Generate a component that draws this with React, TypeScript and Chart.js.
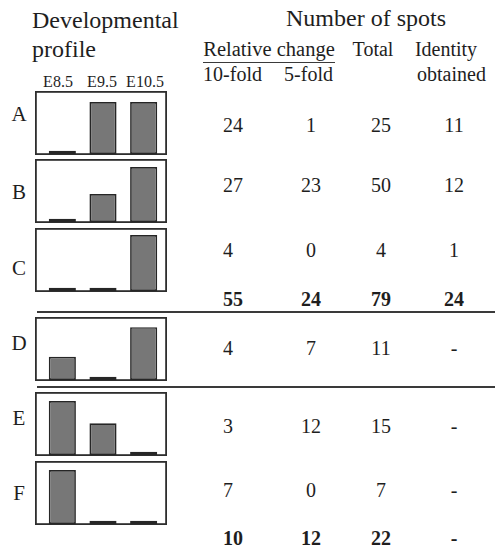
import React, { useEffect, useRef } from "react";
import { Chart, registerables } from "chart.js";
Chart.register(...registerables);

// ---- data ----
const stages = ["E8.5", "E9.5", "E10.5"];
const profileLabels = ["A", "B", "C", "D", "E", "F"];
const profileA = [0.06, 0.965, 0.965];
const profileB = [0.06, 0.52, 1.02];
const profileC = [0.06, 0.06, 1.04];
const profileD = [0.43, 0.06, 0.98];
const profileE = [1.0, 0.59, 0.06];
const profileF = [1.0, 0.06, 0.06];
const profiles = [profileA, profileB, profileC, profileD, profileE, profileF];

const tenFold = ["24", "27", "4", "4", "3", "7"];
const fiveFold = ["1", "23", "0", "7", "12", "0"];
const totals = ["25", "50", "4", "11", "15", "7"];
const identity = ["11", "12", "1", "-", "-", "-"];
const subtotal1 = ["55", "24", "79", "24"];
const subtotal2 = ["10", "12", "22", "-"];

// ---- layout ----
const FONT = '"Liberation Serif", "Times New Roman", serif';
const BOX_LEFT = 35;
const BOX_W = 132;
const BOX_H = 64;
const BOX_TOPS = [91, 159, 228, 317, 392, 461];
const LETTER_Y = [114, 192, 268, 343, 418, 493];
const ROW_Y = [125, 185, 250, 348, 426, 490];
const SUB_Y = [299, 538];
const COL1_LEFT = 223;
const COL_X = [311, 381, 454];
const STAGE_X = [58, 102, 145];

const boxPlugin = {
  id: "boxFrame",
  beforeDatasetsDraw(chart: any) {
    const { ctx, width, height } = chart;
    ctx.save();
    ctx.strokeStyle = "#2e2e2e";
    ctx.lineWidth = 1.8;
    ctx.strokeRect(0.9, 0.9, width - 1.8, height - 1.8);
    ctx.restore();
  },
};

function MiniBar({ values, top }: { values: number[]; top: number }) {
  const ref = useRef<HTMLCanvasElement>(null);
  useEffect(() => {
    if (!ref.current) return;
    const chart = new Chart(ref.current, {
      type: "bar",
      data: {
        labels: stages,
        datasets: [
          {
            data: values,
            backgroundColor: "#777777",
            borderColor: "#262626",
            borderWidth: 1.7,
            borderSkipped: false,
            barPercentage: 0.667,
            categoryPercentage: 1,
          },
        ],
      },
      options: {
        animation: false,
        responsive: false,
        events: [],
        layout: { padding: { left: 7, right: 3, top: 1, bottom: 1 } },
        plugins: { legend: { display: false }, tooltip: { enabled: false } },
        scales: {
          x: { display: false, offset: true },
          y: { display: false, min: 0, max: 1.15 },
        },
      },
      plugins: [boxPlugin],
    });
    return () => chart.destroy();
  }, [values]);
  return (
    <canvas
      ref={ref}
      width={BOX_W}
      height={BOX_H}
      style={{ position: "absolute", left: BOX_LEFT, top, width: BOX_W, height: BOX_H }}
    />
  );
}

function T({
  x,
  y,
  size,
  children,
  bold,
  left,
}: {
  x: number;
  y: number;
  size: number;
  children: React.ReactNode;
  bold?: boolean;
  left?: boolean;
}) {
  return (
    <div
      style={{
        position: "absolute",
        left: x,
        top: y,
        transform: left ? "translate(0,-50%)" : "translate(-50%,-50%)",
        fontSize: size,
        lineHeight: 1,
        fontFamily: FONT,
        fontWeight: bold ? "bold" : "normal",
        whiteSpace: "nowrap",
        color: "#1e1e1e",
      }}
    >
      {children}
    </div>
  );
}

function HLine({ x, y, w, h }: { x: number; y: number; w: number; h: number }) {
  return (
    <div style={{ position: "absolute", left: x, top: y, width: w, height: h, background: "#3a3a3a" }} />
  );
}

export default function App() {
  const rows = profileLabels.map((_, i) => [tenFold[i], fiveFold[i], totals[i], identity[i]]);
  return (
    <div
      style={{
        position: "absolute",
        left: 0,
        top: 0,
        width: 495,
        height: 552,
        background: "#fff",
        overflow: "hidden",
      }}
    >
      <T x={32} y={20} size={24} left>
        Developmental
      </T>
      <T x={32} y={49} size={24} left>
        profile
      </T>
      {stages.map((s, i) => (
        <T key={s} x={STAGE_X[i]} y={82} size={16}>
          {s}
        </T>
      ))}
      <T x={366} y={18} size={24}>
        Number of spots
      </T>
      <T x={269} y={49} size={20.5}>
        Relative change
      </T>
      <HLine x={203} y={61.5} w={132} h={1} />
      <T x={232.5} y={73.5} size={20}>
        10-fold
      </T>
      <T x={308.5} y={73.5} size={20}>
        5-fold
      </T>
      <T x={373} y={49} size={20}>
        Total
      </T>
      <T x={446} y={49} size={20}>
        Identity
      </T>
      <T x={451.5} y={74} size={20}>
        obtained
      </T>

      {profiles.map((v, i) => (
        <MiniBar key={profileLabels[i]} values={v} top={BOX_TOPS[i]} />
      ))}
      {profileLabels.map((l, i) => (
        <T key={l} x={19} y={LETTER_Y[i]} size={21}>
          {l}
        </T>
      ))}

      {rows.map((r, i) => (
        <React.Fragment key={i}>
          <T x={COL1_LEFT} y={ROW_Y[i]} size={20} left>
            {r[0]}
          </T>
          {r.slice(1).map((c, j) => (
            <T key={j} x={COL_X[j]} y={ROW_Y[i]} size={20}>
              {c}
            </T>
          ))}
        </React.Fragment>
      ))}
      {[subtotal1, subtotal2].map((r, i) => (
        <React.Fragment key={"s" + i}>
          <T x={COL1_LEFT} y={SUB_Y[i]} size={20} left bold>
            {r[0]}
          </T>
          {r.slice(1).map((c, j) => (
            <T key={j} x={COL_X[j]} y={SUB_Y[i]} size={20} bold>
              {c}
            </T>
          ))}
        </React.Fragment>
      ))}

      <HLine x={37} y={311} w={458} h={2} />
      <HLine x={37} y={386} w={458} h={2} />
    </div>
  );
}
